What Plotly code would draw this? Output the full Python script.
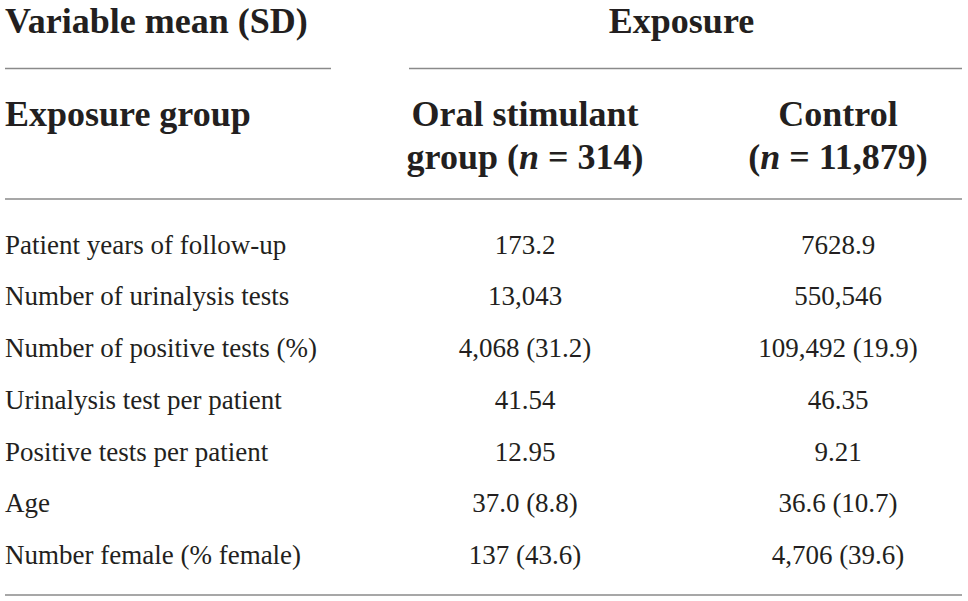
import plotly.graph_objects as go

# ---- data ----
row_labels = [
    "Patient years of follow-up",
    "Number of urinalysis tests",
    "Number of positive tests (%)",
    "Urinalysis test per patient",
    "Positive tests per patient",
    "Age",
    "Number female (% female)",
]
oral_values = ["173.2", "13,043", "4,068 (31.2)", "41.54", "12.95", "37.0 (8.8)", "137 (43.6)"]
control_values = ["7628.9", "550,546", "109,492 (19.9)", "46.35", "9.21", "36.6 (10.7)", "4,706 (39.6)"]
top_headers = ["Variable mean (SD)", "Exposure"]
sub_header_label = "Exposure group"
col_header_line1 = ["Oral stimulant", "Control"]
col_header_line2 = ["group (<i>n</i> = 314)", "(<i>n</i> = 11,879)"]

# ---- layout constants ----
W, H = 968, 601
FONT = "Liberation Serif"
TXT = "#231f20"
LINE = "#8a8a8a"
BODY_SIZE = 27
HEAD_SIZE = 36
x_label = 5
x_col = [525, 838]
row_y0, row_step = 247, 51.7
row_y = [row_y0 + i * row_step for i in range(len(row_labels))]
y_top, y_sub1, y_sub2 = 24, 117, 160

fig = go.Figure()


def add_text(xs, ys, texts, pos, size, bold=False):
    if bold:
        texts = ["<b>%s</b>" % t for t in texts]
    fig.add_trace(go.Scatter(x=xs, y=ys, text=texts, mode="text", textposition=pos,
                             cliponaxis=False,
                             textfont=dict(family=FONT, size=size, color=TXT), hoverinfo="skip"))


# body
add_text([x_label] * len(row_labels), row_y, row_labels, "middle right", BODY_SIZE)
for xc, vals in zip(x_col, [oral_values, control_values]):
    add_text([xc] * len(vals), row_y, vals, "middle center", BODY_SIZE)

# headers
add_text([x_label], [y_top], [top_headers[0]], "middle right", HEAD_SIZE, True)
add_text([sum(x_col) / 2], [y_top], [top_headers[1]], "middle center", HEAD_SIZE, True)
add_text([x_label], [y_sub1], [sub_header_label], "middle right", HEAD_SIZE, True)
add_text(x_col, [y_sub1] * 2, col_header_line1, "middle center", HEAD_SIZE, True)
add_text(x_col, [y_sub2] * 2, col_header_line2, "middle center", HEAD_SIZE, True)

# rules
for x0, x1, y in [(5, 331, 68.5), (409, 962, 68.5), (5, 962, 199), (5, 962, 595)]:
    fig.add_shape(type="line", x0=x0, x1=x1, y0=y, y1=y, line=dict(color=LINE, width=1.5))

fig.update_layout(
    width=W, height=H, margin=dict(l=0, r=0, t=0, b=0),
    paper_bgcolor="white", plot_bgcolor="white", showlegend=False,
    xaxis=dict(range=[0, W], visible=False, fixedrange=True),
    yaxis=dict(range=[H, 0], visible=False, fixedrange=True),
)
fig.write_html("out.html", config={"displayModeBar": False},
               post_script="document.body.style.margin='0';document.body.style.overflow='hidden';")
